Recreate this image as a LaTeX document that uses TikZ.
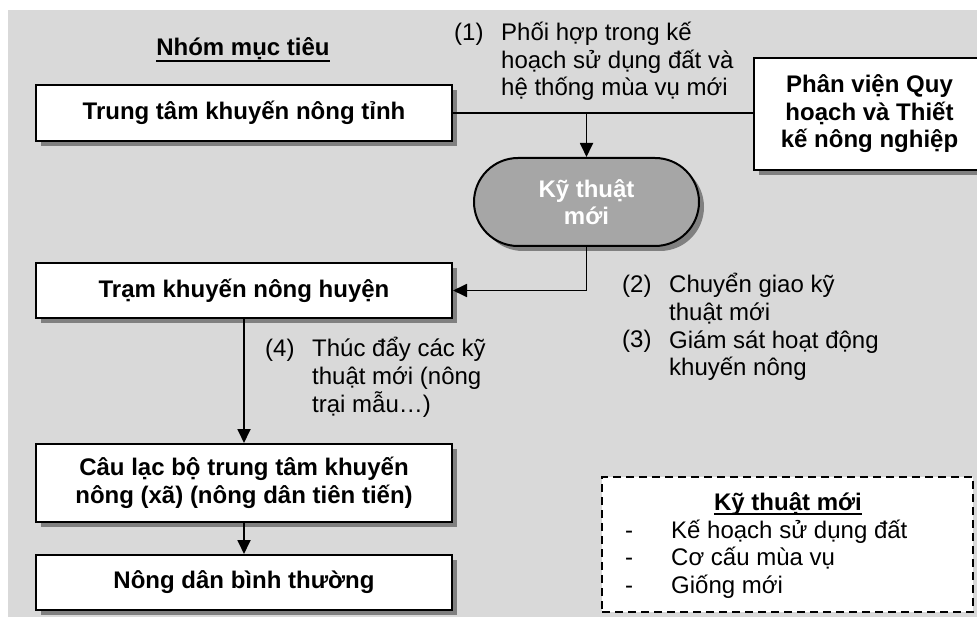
\documentclass[tikz,border=0pt]{standalone}
\usepackage{fontspec}
\setmainfont{Liberation Sans}
\usetikzlibrary{shadows,arrows.meta}
\definecolor{bggray}{HTML}{D9D9D9}
\definecolor{ovalgray}{HTML}{A6A6A6}
\definecolor{shadowgray}{HTML}{808080}
\begin{document}
\begin{tikzpicture}[x=1pt,y=-1pt,
  every node/.style={font=\fontsize{24}{27.5}\selectfont, inner sep=0pt},
  box/.style={draw, line width=2pt, fill=white, align=center,
    font=\fontsize{24}{27.5}\selectfont\bfseries,
    drop shadow={shadow xshift=5pt, shadow yshift=-5pt, fill=shadowgray, opacity=1}},
  conn/.style={line width=1.8pt},
  arr/.style={conn, -{Triangle[width=13pt,length=14pt]}},
  lbl/.style={anchor=base west, align=left},
  numlbl/.style={anchor=base west},
  legendbox/.style={draw, line width=2pt, dash pattern=on 8pt off 5pt, fill=white},
  heading/.style={anchor=base, font=\fontsize{24}{27.5}\selectfont\bfseries},
  uline/.style={line width=2pt}]
\useasboundingbox (0,0) rectangle (977,617);
\clip (0,0) rectangle (977,617);
\fill[bggray] (8,10) rectangle (977,617);

% heading
\node[heading] (nhom) at (243,56) {Nhóm mục tiêu};
\draw[uline] ([yshift=-5pt]nhom.base west) -- ([yshift=-5pt]nhom.base east);

% boxes
\node[box, minimum width=416pt, minimum height=56pt] (ttkn) at (244,113) {Trung tâm khuyến nông tỉnh};
\node[box, minimum width=231pt, minimum height=112pt] (pv) at (869.5,114) {Phân viện Quy\\hoạch và Thiết\\kế nông nghiệp};
\node[box, fill=ovalgray, text=white, rounded corners=44pt, minimum width=225pt, minimum height=88pt] (kt) at (586.5,202) {Kỹ thuật\\mới};
\node[box, minimum width=416pt, minimum height=55pt] (tram) at (244,290.5) {Trạm khuyến nông huyện};
\node[box, minimum width=416pt, minimum height=78pt] (clb) at (244,483) {Câu lạc bộ trung tâm khuyến\\nông (xã) (nông dân tiên tiến)};
\node[box, minimum width=416pt, minimum height=55pt] (nd) at (244,582.5) {Nông dân bình thường};

% connectors
\draw[conn] (ttkn.east) -- (ttkn.east -| pv.west);
\coordinate (j) at (ttkn.east -| kt.north);
\draw[arr] (j) -- (kt.north);
\draw[arr] (kt.south) |- (tram.east);
\draw[arr] (tram.south) -- (clb.north);
\draw[arr] (clb.south) -- (nd.north);

% labels (multi-line nodes: base = last line's baseline)
\node[numlbl] (n1) at (454,41) {(1)};
\node[lbl] (l1) at (501,96) {Phối hợp trong kế\\hoạch sử dụng đất và\\hệ thống mùa vụ mới};
\node[numlbl] (n2) at (622,293) {(2)};
\node[lbl] (l2) at (669,320.5) {Chuyển giao kỹ\\thuật mới};
\node[numlbl] (n3) at (622,348) {(3)};
\node[lbl] (l3) at (669,375.5) {Giám sát hoạt động\\khuyến nông};
\node[numlbl] (n4) at (265,357) {(4)};
\node[lbl] (l4) at (312,412) {Thúc đẩy các kỹ\\thuật mới (nông\\trại mẫu…)};

% legend
\node[legendbox, minimum width=371pt, minimum height=135pt] (legend) at (787.5,544.5) {};
\node[heading] (kth) at (788,510) {Kỹ thuật mới};
\draw[uline] ([yshift=-4pt]kth.base west) -- ([yshift=-4pt]kth.base east);
\node[numlbl] (d1) at (625,538) {-};
\node[numlbl] (d2) at (625,565.5) {-};
\node[numlbl] (d3) at (625,593) {-};
\node[lbl] (items) at (671,593) {Kế hoạch sử dụng đất\\Cơ cấu mùa vụ\\Giống mới};
\end{tikzpicture}
\end{document}
